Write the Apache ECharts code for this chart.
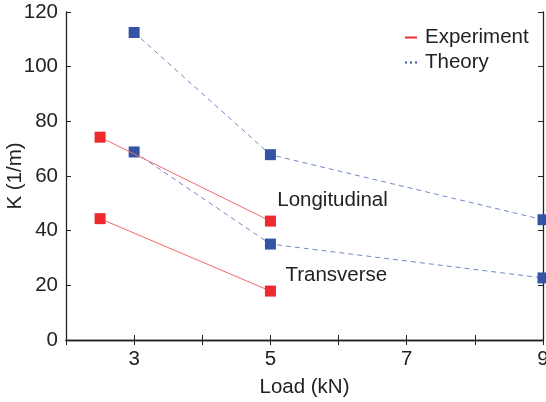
<!DOCTYPE html>
<html><head><meta charset="utf-8">
<script src="https://cdn.jsdelivr.net/npm/echarts@6/dist/echarts.min.js"></script>
<style>html,body{margin:0;padding:0;background:#fff}#c{width:546px;height:402px}</style>
</head><body><div id="c"></div>
<script>
const expLongX = [2.5, 5];
const expLongY = [74.2, 43.5];
const expTransX = [2.5, 5];
const expTransY = [44.4, 17.9];
const thLongX = [3, 5, 9];
const thLongY = [112.5, 67.8, 44.0];
const thTransX = [3, 5, 9];
const thTransY = [68.8, 35.1, 22.7];
const xTickLabels = ['3', '5', '7', '9'];
const yTicks = [0, 20, 40, 60, 80, 100, 120];
const annotations = [{text: 'Longitudinal', x: 5.1, y: 51}, {text: 'Transverse', x: 5.22, y: 23.5}];

const RED = '#ee2a2e', BLUE = '#3453a4', LRED = '#f46a6a', LBLUE = '#6f88c9';
const font = 'Liberation Sans, Arial, Helvetica, sans-serif';
const FS = 20.5;
const zip = (xs, ys) => xs.map((x, i) => [x, ys[i]]);

const chart = echarts.init(document.getElementById('c'));
const axisLine = {show: true, lineStyle: {color: '#222', width: 1.3}};
const tick = {show: true, inside: true, length: 5, lineStyle: {color: '#222'}};
chart.setOption({
  animation: false,
  grid: {left: 66, right: 3, top: 12, bottom: 62, outerBoundsMode: 'none', containLabel: false},
  xAxis: [{
    type: 'value', min: 2, max: 9, interval: 1,
    axisLine, splitLine: {show: false}, axisTick: tick,
    axisLabel: {color: '#222', fontSize: FS, fontFamily: font, margin: 9,
      formatter: v => xTickLabels.includes(String(v)) ? String(v) : ''},
    name: 'Load (kN)', nameLocation: 'middle', nameGap: 37, nameMoveOverlap: false,
    nameTextStyle: {color: '#222', fontSize: FS, fontFamily: font}
  }, {
    type: 'value', min: 2, max: 9, interval: 1, position: 'top',
    axisLine, splitLine: {show: false}, axisTick: tick,
    axisLabel: {show: false}
  }],
  yAxis: [{
    type: 'value', min: 0, max: 120, interval: 20,
    axisLine, splitLine: {show: false}, axisTick: tick,
    axisLabel: {color: '#222', fontSize: FS, fontFamily: font, margin: 8,
      formatter: v => yTicks.includes(v) ? String(v) : ''},
    name: 'K (1/m)', nameLocation: 'middle', nameGap: 40, nameRotate: 90, nameMoveOverlap: false,
    nameTextStyle: {color: '#222', fontSize: FS, fontFamily: font}
  }, {
    type: 'value', min: 0, max: 120, interval: 20, position: 'right',
    axisLine, splitLine: {show: false}, axisTick: tick,
    axisLabel: {show: false}
  }],
  legend: {
    left: 400, top: 22, orient: 'vertical', itemGap: 4, itemWidth: 12, itemHeight: 2,
    textStyle: {color: '#222', fontSize: FS, fontFamily: font, padding: [0, 0, 0, 3]},
    data: [
      {name: 'Experiment', icon: 'path://M0,0 L12,0 L12,2 L0,2 Z', itemStyle: {color: RED}},
      {name: 'Theory', icon: 'path://M0,0 L2,0 L2,2 L0,2 Z M5,0 L7,0 L7,2 L5,2 Z M10,0 L12,0 L12,2 L10,2 Z', itemStyle: {color: BLUE}}
    ]
  },
  series: [
    {name: 'Theory', type: 'line', data: zip(thLongX, thLongY), symbol: 'rect', symbolSize: 11,
      itemStyle: {color: BLUE}, lineStyle: {color: LBLUE, width: 1, type: [5, 4]}, z: 2},
    {name: 'Theory', type: 'line', data: zip(thTransX, thTransY), symbol: 'rect', symbolSize: 11,
      itemStyle: {color: BLUE}, lineStyle: {color: LBLUE, width: 1, type: [5, 4]}, z: 2},
    {name: 'Experiment', type: 'line', data: zip(expLongX, expLongY), symbol: 'rect', symbolSize: 11,
      itemStyle: {color: RED}, lineStyle: {color: LRED, width: 1}, z: 3},
    {name: 'Experiment', type: 'line', data: zip(expTransX, expTransY), symbol: 'rect', symbolSize: 11,
      itemStyle: {color: RED}, lineStyle: {color: LRED, width: 1}, z: 3},
    {name: 'labels', type: 'scatter', symbolSize: 0, itemStyle: {color: 'rgba(0,0,0,0)', opacity: 1}, silent: true,
      data: annotations.map(a => ({value: [a.x, a.y], name: a.text})),
      label: {show: true, position: 'right', distance: 0, formatter: p => p.name,
        color: '#222', opacity: 1, fontSize: FS, fontFamily: font}, z: 4}
  ]
});
</script></body></html>
